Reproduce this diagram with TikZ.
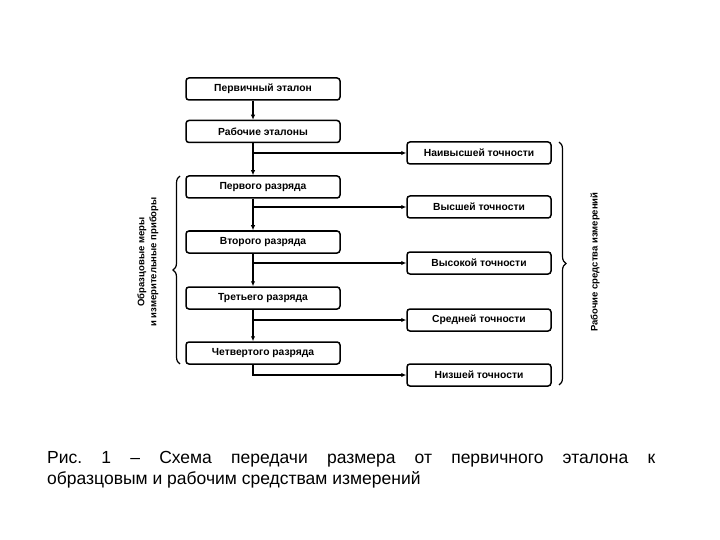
\documentclass[tikz,border=0pt]{standalone}
\usepackage{fontspec}
\setmainfont{Liberation Sans}
\setsansfont{Liberation Sans}
\usetikzlibrary{arrows.meta,decorations.pathreplacing}
\begin{document}
\begin{tikzpicture}[x=1pt,y=-1pt,
  lbox/.style={draw,line width=1.5pt,rounded corners=3pt,minimum width=154pt,minimum height=22pt,inner sep=0pt,font=\sffamily\bfseries\fontsize{10.3}{12}\selectfont},
  rbox/.style={draw,line width=1.5pt,rounded corners=3pt,minimum width=144pt,minimum height=22pt,inner sep=0pt,font=\sffamily\bfseries\fontsize{10.3}{12}\selectfont},
  arr/.style={line width=1.4pt,-{Latex[length=5pt,width=4.5pt]}},
  brc/.style={line width=1.2pt,decorate,decoration={brace,amplitude=7pt}},
  vtext/.style={font=\sffamily\bfseries\fontsize{9.5}{11}\selectfont,rotate=90,inner sep=0pt}]
\useasboundingbox (0,0) rectangle (720,540);
\coordinate (t) at (253,0);
\node[lbox] (p0) at (263,89) {Первичный эталон};
\node[lbox] (p1) at (263,131.5) {Рабочие эталоны};
\node[lbox] (p2) at (263,187) {Первого разряда};
\node[lbox] (p3) at (263,242) {Второго разряда};
\node[lbox] (p4) at (263,298) {Третьего разряда};
\node[lbox] (p5) at (263,353) {Четвертого разряда};
\node[rbox] (r1) at (479,153) {Наивысшей точности};
\node[rbox] (r2) at (479,207) {Высшей точности};
\node[rbox] (r3) at (479,263) {Высокой точности};
\node[rbox] (r4) at (479,320) {Средней точности};
\node[rbox] (r5) at (479,375) {Низшей точности};
\draw[arr] (p0.south -| t) -- (p1.north -| t);
\draw[arr] (p1.south -| t) -- (p2.north -| t);
\draw[arr] (p2.south -| t) -- (p3.north -| t);
\draw[arr] (p3.south -| t) -- (p4.north -| t);
\draw[arr] (p4.south -| t) -- (p5.north -| t);
\draw[arr] (t |- r1.west) -- (r1.west);
\draw[arr] (t |- r2.west) -- (r2.west);
\draw[arr] (t |- r3.west) -- (r3.west);
\draw[arr] (t |- r4.west) -- (r4.west);
\draw[arr] (p5.south -| t) |- (r5.west);
\coordinate (lb1) at (180,364);
\coordinate (lb2) at (180,176);
\coordinate (rb1) at (559,142);
\coordinate (rb2) at (559,385);
\draw[brc] (lb1) -- (lb2);
\draw[brc] (rb1) -- (rb2);
\node[vtext] (lt1) at (142,262) {Образцовые меры};
\node[vtext] (lt2) at (154,262) {и измерительные приборы};
\node[vtext] (rt) at (595,262) {Рабочие средства измерений};
\node[anchor=base west,inner sep=0pt,font=\fontsize{17.5}{21}\selectfont,text width=608pt,align=justify] (cap) at (47,463)
 {Рис.\ 1 – Схема передачи размера от первичного эталона к\linebreak образцовым и рабочим средствам измерений};
\end{tikzpicture}
\end{document}
